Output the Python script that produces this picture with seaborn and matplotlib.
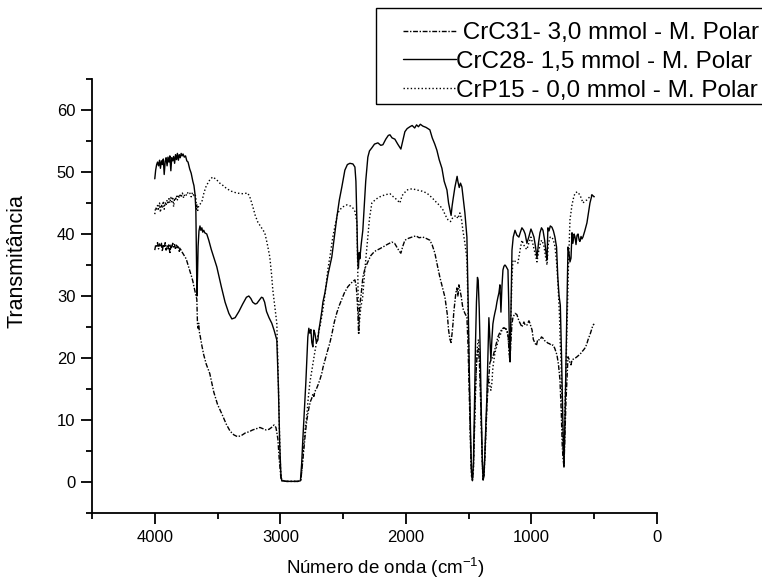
import matplotlib
matplotlib.use("Agg")
import matplotlib.pyplot as plt
from matplotlib.patches import Rectangle
from matplotlib.ticker import MultipleLocator
import seaborn as sns
import numpy as np

# ---------------------------------------------------------------------------
# data
# ---------------------------------------------------------------------------
labels = [" CrC31- 3,0 mmol - M. Polar",
          "CrC28- 1,5 mmol - M. Polar",
          "CrP15 - 0,0 mmol - M. Polar"]

# CrC31 - dash dot
c31_wn = [4000, 3993, 3985, 3978, 3970, 3962, 3955, 3947, 3940, 3932,
          3925, 3917, 3910, 3902, 3895, 3887, 3880, 3872, 3865, 3857,
          3850, 3842, 3835, 3827, 3820, 3812, 3805, 3797, 3790, 3780,
          3765, 3750, 3735, 3720, 3705, 3697, 3688, 3680, 3672, 3665,
          3660, 3655, 3650, 3645, 3638, 3625, 3610, 3590, 3562, 3530,
          3500, 3466, 3430, 3400, 3370, 3340, 3310, 3280, 3250, 3220,
          3190, 3163, 3140, 3115, 3090, 3070, 3050, 3035, 3020, 3008,
          2995, 2988, 2950, 2900, 2860, 2837, 2828, 2821, 2810, 2800,
          2790, 2781, 2770, 2760, 2750, 2741, 2733, 2725, 2713, 2701,
          2685, 2670, 2660, 2640, 2622, 2606, 2590, 2570, 2550, 2530,
          2510, 2490, 2462, 2440, 2420, 2406, 2395, 2388, 2382, 2377,
          2372, 2366, 2358, 2350, 2343, 2325, 2303, 2280, 2263, 2240,
          2210, 2183, 2150, 2112, 2090, 2072, 2055, 2040, 2025, 2008,
          1980, 1952, 1920, 1895, 1865, 1840, 1809, 1790, 1769, 1750,
          1729, 1710, 1689, 1670, 1660, 1649, 1640, 1632, 1625, 1618,
          1610, 1602, 1594, 1586, 1578, 1570, 1560, 1546, 1530, 1514,
          1505, 1495, 1485, 1478, 1470, 1462, 1454, 1446, 1438, 1430,
          1422, 1414, 1406, 1398, 1390, 1385, 1378, 1370, 1362, 1355,
          1347, 1339, 1331, 1320, 1307, 1290, 1267, 1250, 1227, 1211,
          1195, 1185, 1178, 1171, 1163, 1155, 1147, 1130, 1116, 1100,
          1090, 1076, 1060, 1050, 1036, 1020, 1012, 995, 985, 972,
          960, 950, 932, 920, 908, 895, 880, 869, 855, 840,
          829, 815, 797, 785, 773, 762, 755, 749, 741, 733,
          725, 717, 709, 700, 693, 685, 677, 660, 650, 637,
          620, 605, 598, 585, 574, 560, 550, 530, 510, 500]
c31_t = [37.4, 38.2, 38.0, 38.6, 37.6, 38.4, 37.9, 38.5, 37.2, 38.3,
         37.8, 38.6, 37.4, 38.1, 37.6, 38.4, 36.8, 38.2, 37.7, 38.5,
         37.9, 38.3, 37.5, 38.2, 37.8, 38.1, 37.2, 37.8, 37.3, 37.0,
         36.5, 36.0, 35.0, 34.0, 33.0, 32.4, 31.5, 30.8, 30.0, 29.5,
         25.5, 24.8, 25.6, 24.2, 23.5, 22.0, 20.5, 19.0, 17.5, 14.5,
         12.5, 11.0, 9.3, 8.2, 7.6, 7.3, 7.5, 7.9, 8.1, 8.4,
         8.6, 8.8, 8.6, 8.4, 8.5, 8.8, 9.2, 8.8, 7.0, 3.5,
         0.5, 0.2, 0.1, 0.1, 0.1, 0.3, 2.0, 3.5, 6.0, 8.0,
         9.8, 11.0, 12.2, 13.0, 13.5, 14.2, 13.8, 14.6, 15.0, 15.6,
         16.5, 17.5, 18.5, 20.0, 21.3, 22.4, 23.8, 25.8, 27.3, 28.5,
         29.5, 30.5, 31.5, 32.0, 32.4, 32.6, 31.5, 29.5, 27.0, 24.0,
         26.5, 28.8, 30.0, 31.5, 33.0, 34.5, 35.5, 36.5, 36.9, 37.3,
         37.6, 37.9, 38.3, 38.7, 38.5, 37.9, 37.3, 36.9, 38.0, 39.0,
         39.3, 39.5, 39.7, 39.4, 39.5, 39.3, 39.0, 38.2, 36.9, 35.0,
         33.0, 31.5, 29.8, 27.0, 24.5, 23.0, 22.5, 24.0, 25.5, 27.5,
         29.0, 30.5, 31.3, 30.0, 31.8, 31.0, 30.0, 28.0, 27.2, 26.6,
         22.0, 14.0, 6.0, 1.5, 0.3, 2.5, 9.0, 15.0, 19.0, 21.0,
         21.5, 19.0, 14.0, 8.0, 2.5, 0.5, 1.2, 5.0, 9.0, 12.0,
         15.0, 17.2, 19.2, 19.8, 20.2, 21.5, 23.4, 24.2, 24.8, 24.8,
         24.5, 23.5, 21.0, 19.4, 23.0, 25.5, 26.6, 27.2, 27.0, 26.0,
         25.6, 25.0, 25.8, 25.3, 25.3, 26.0, 25.6, 24.5, 23.0, 22.4,
         22.0, 23.0, 22.9, 23.4, 23.2, 22.8, 22.6, 22.4, 22.3, 22.0,
         22.1, 21.6, 20.5, 19.0, 16.5, 11.0, 6.0, 4.0, 2.4, 8.0,
         13.0, 16.5, 20.2, 19.8, 19.2, 18.9, 19.7, 19.9, 20.0, 20.2,
         20.5, 20.8, 21.0, 21.3, 21.6, 22.2, 22.9, 24.0, 25.3, 25.5]

# CrC28 - solid
c28_wn = [4000, 3993, 3985, 3978, 3970, 3962, 3955, 3947, 3940, 3932,
          3925, 3917, 3910, 3902, 3895, 3887, 3880, 3872, 3865, 3857,
          3850, 3842, 3835, 3827, 3820, 3812, 3805, 3797, 3790, 3782,
          3775, 3765, 3755, 3745, 3735, 3722, 3710, 3697, 3688, 3680,
          3673, 3668, 3664, 3660, 3655, 3648, 3640, 3633, 3625, 3618,
          3610, 3602, 3586, 3570, 3550, 3506, 3470, 3440, 3410, 3386,
          3360, 3330, 3300, 3270, 3251, 3235, 3220, 3200, 3187, 3165,
          3150, 3139, 3125, 3110, 3090, 3068, 3050, 3028, 3015, 3005,
          2995, 2988, 2950, 2900, 2860, 2840, 2830, 2821, 2810, 2797,
          2788, 2781, 2773, 2765, 2757, 2749, 2741, 2733, 2725, 2713,
          2701, 2693, 2685, 2670, 2661, 2645, 2620, 2590, 2570, 2550,
          2530, 2510, 2486, 2466, 2446, 2422, 2406, 2398, 2390, 2384,
          2378, 2372, 2367, 2355, 2343, 2330, 2320, 2303, 2290, 2271,
          2250, 2223, 2200, 2183, 2160, 2140, 2127, 2110, 2088, 2065,
          2040, 2025, 2008, 1990, 1968, 1950, 1930, 1915, 1900, 1885,
          1865, 1840, 1825, 1809, 1790, 1770, 1753, 1735, 1713, 1695,
          1673, 1660, 1649, 1640, 1632, 1625, 1610, 1600, 1592, 1586,
          1575, 1565, 1554, 1545, 1530, 1520, 1514, 1505, 1495, 1485,
          1478, 1470, 1462, 1454, 1446, 1438, 1430, 1424, 1416, 1408,
          1400, 1392, 1385, 1378, 1370, 1362, 1355, 1347, 1339, 1331,
          1323, 1315, 1307, 1299, 1291, 1283, 1275, 1267, 1259, 1251,
          1243, 1235, 1227, 1219, 1211, 1203, 1195, 1187, 1181, 1175,
          1170, 1163, 1155, 1145, 1131, 1116, 1100, 1088, 1076, 1062,
          1050, 1036, 1020, 1004, 992, 980, 968, 956, 944, 932,
          920, 908, 895, 884, 876, 869, 860, 850, 837, 825,
          813, 800, 790, 780, 770, 760, 750, 741, 733, 725,
          717, 709, 701, 693, 685, 677, 670, 660, 653, 645,
          637, 629, 620, 614, 605, 598, 590, 575, 558, 545,
          534, 518, 500]
c28_t = [48.9, 50.3, 51.2, 51.6, 51.0, 51.9, 50.6, 51.8, 51.2, 52.1,
         49.6, 51.7, 52.3, 51.0, 52.4, 51.6, 52.6, 50.2, 52.3, 51.8,
         52.5, 51.4, 52.8, 52.0, 53.0, 51.9, 52.8, 52.3, 53.0, 52.6,
         52.9, 52.4, 52.6, 51.8, 51.6, 50.5, 49.8, 48.5, 47.8, 46.5,
         44.0, 36.0, 30.0, 33.0, 38.0, 40.5, 41.3, 40.6, 41.0, 40.3,
         40.6, 40.2, 40.0, 39.0, 37.5, 34.7, 31.5, 29.0, 27.2, 26.3,
         26.5, 27.5, 28.7, 29.8, 30.0, 29.6, 29.0, 28.7, 28.8, 29.4,
         29.8, 29.7, 29.0, 27.5, 26.5, 25.6, 24.5, 22.9, 15.0, 6.0,
         1.0, 0.2, 0.1, 0.1, 0.1, 0.2, 3.0, 6.8, 11.0, 16.0,
         20.0, 23.4, 24.8, 24.0, 24.6, 22.5, 21.8, 24.5, 24.0, 22.5,
         22.9, 24.5, 25.5, 27.5, 29.0, 30.5, 33.5, 36.3, 39.5, 42.7,
         45.5, 47.6, 50.3, 51.2, 51.4, 51.3, 50.8, 48.5, 42.0, 36.0,
         34.5, 37.0, 36.0, 38.5, 40.6, 45.0, 48.5, 52.4, 53.4, 53.9,
         54.5, 54.7, 54.3, 54.4, 55.3, 55.9, 56.0, 55.5, 55.3, 54.5,
         53.7, 55.0, 56.5, 57.0, 57.3, 57.5, 57.1, 57.6, 57.3, 57.7,
         57.4, 57.2, 57.0, 56.8, 55.5, 54.5, 53.5, 52.0, 50.6, 48.5,
         47.1, 45.0, 43.9, 43.0, 44.5, 45.5, 47.5, 48.5, 49.3, 48.5,
         47.5, 48.2, 47.6, 46.0, 43.4, 41.0, 39.5, 30.0, 18.0, 8.0,
         2.0, 0.2, 3.0, 12.0, 22.0, 29.0, 33.0, 32.5, 28.0, 21.0,
         12.0, 4.0, 0.3, 1.0, 5.0, 10.0, 13.7, 20.0, 26.5, 23.0,
         19.7, 23.0, 25.5, 26.5, 27.3, 28.0, 29.0, 29.8, 30.5, 31.8,
         27.4, 31.5, 34.2, 34.8, 35.0, 34.8, 34.5, 34.2, 29.0, 22.0,
         19.4, 28.0, 37.4, 39.5, 40.6, 39.8, 39.5, 40.3, 41.0, 40.6,
         40.0, 38.5, 39.6, 40.8, 40.2, 39.5, 38.0, 36.1, 38.5, 40.2,
         41.0, 40.6, 39.0, 37.0, 35.8, 41.0, 40.5, 41.3, 41.1, 40.5,
         39.5, 37.9, 33.0, 30.0, 28.5, 20.0, 10.0, 2.4, 10.0, 19.0,
         27.3, 37.9, 37.0, 35.5, 36.1, 40.2, 38.5, 40.0, 39.5, 38.3,
         39.8, 40.0, 39.0, 38.8, 39.6, 39.2, 39.5, 40.5, 41.8, 43.5,
         45.0, 46.3, 46.0]

# CrP15 - dotted
p15_wn = [4000, 3993, 3985, 3978, 3970, 3962, 3955, 3947, 3940, 3932,
          3925, 3917, 3910, 3902, 3895, 3887, 3880, 3872, 3865, 3857,
          3850, 3842, 3835, 3827, 3820, 3812, 3805, 3797, 3790, 3780,
          3770, 3760, 3745, 3735, 3721, 3710, 3700, 3690, 3680, 3673,
          3668, 3664, 3658, 3650, 3640, 3625, 3610, 3595, 3586, 3560,
          3538, 3510, 3482, 3455, 3426, 3390, 3347, 3300, 3259, 3240,
          3219, 3200, 3179, 3150, 3124, 3105, 3084, 3070, 3060, 3045,
          3028, 3018, 3008, 2998, 2990, 2950, 2900, 2860, 2837, 2828,
          2821, 2810, 2800, 2790, 2780, 2765, 2745, 2725, 2705, 2685,
          2661, 2640, 2622, 2600, 2582, 2560, 2542, 2510, 2470, 2440,
          2422, 2405, 2390, 2384, 2378, 2374, 2369, 2360, 2343, 2330,
          2319, 2303, 2290, 2271, 2240, 2207, 2170, 2127, 2100, 2070,
          2048, 2030, 1992, 1950, 1912, 1870, 1833, 1800, 1770, 1753,
          1730, 1705, 1685, 1665, 1645, 1625, 1600, 1585, 1570, 1558,
          1546, 1530, 1514, 1505, 1495, 1485, 1478, 1470, 1462, 1454,
          1446, 1438, 1430, 1422, 1414, 1406, 1398, 1390, 1385, 1378,
          1370, 1362, 1355, 1347, 1339, 1331, 1323, 1315, 1307, 1291,
          1275, 1259, 1243, 1235, 1223, 1211, 1195, 1185, 1178, 1171,
          1163, 1155, 1147, 1130, 1108, 1090, 1076, 1060, 1050, 1036,
          1020, 1004, 990, 975, 965, 956, 940, 925, 916, 900,
          885, 876, 865, 850, 837, 825, 813, 800, 789, 777,
          770, 765, 755, 748, 741, 733, 725, 717, 705, 693,
          685, 677, 665, 653, 635, 614, 600, 590, 575, 558,
          540, 518, 500]
p15_t = [43.2, 44.3, 43.8, 44.6, 44.0, 45.0, 43.5, 44.8, 44.2, 45.3,
         44.0, 45.1, 44.6, 45.5, 44.8, 45.7, 45.0, 45.9, 45.2, 46.0,
         44.4, 45.8, 45.4, 46.2, 45.5, 46.3, 45.8, 46.5, 45.9, 46.6,
         45.8, 46.5, 46.2, 46.8, 46.6, 46.0, 46.7, 46.2, 46.4, 46.0,
         44.0, 44.8, 43.8, 44.6, 44.8, 45.2, 46.5, 47.5, 47.9, 48.8,
         49.2, 48.8, 48.2, 47.8, 47.3, 46.9, 46.6, 46.5, 46.6, 45.8,
         44.4, 43.0, 41.9, 41.0, 40.2, 38.5, 36.3, 33.5, 31.0, 28.5,
         25.6, 18.0, 9.0, 2.0, 0.3, 0.1, 0.1, 0.1, 0.3, 2.0,
         4.0, 7.0, 9.0, 10.5, 13.0, 16.0, 18.5, 21.0, 23.3, 25.0,
         27.7, 31.0, 34.2, 37.0, 39.5, 41.8, 43.4, 44.3, 44.7, 44.5,
         44.2, 43.6, 41.8, 35.0, 27.0, 24.0, 26.0, 28.0, 30.0, 33.5,
         36.0, 39.5, 42.5, 45.0, 45.6, 46.0, 46.3, 46.5, 46.0, 45.5,
         45.0, 46.2, 47.1, 47.3, 47.1, 46.9, 46.6, 46.0, 45.4, 45.0,
         44.6, 43.9, 43.0, 42.3, 42.0, 42.7, 43.0, 42.5, 43.4, 42.5,
         40.6, 38.5, 36.0, 28.0, 16.0, 6.0, 1.0, 0.3, 2.0, 8.0,
         14.0, 19.0, 22.0, 23.0, 21.0, 15.0, 8.0, 2.0, 0.5, 1.0,
         4.0, 8.0, 12.5, 17.0, 16.5, 15.5, 14.8, 16.0, 18.5, 20.8,
         22.0, 23.2, 24.0, 24.5, 24.8, 25.0, 24.4, 23.0, 21.0, 19.4,
         27.0, 33.0, 35.8, 35.6, 35.3, 37.5, 39.0, 38.2, 37.8, 37.5,
         38.6, 39.5, 38.5, 37.2, 36.3, 35.5, 37.5, 38.8, 39.0, 38.0,
         36.0, 35.0, 38.5, 39.5, 39.5, 39.0, 38.0, 35.5, 32.0, 27.0,
         22.0, 20.0, 11.0, 5.0, 2.4, 12.0, 18.0, 25.0, 35.0, 42.3,
         43.5, 44.7, 45.8, 46.6, 46.8, 46.3, 45.6, 45.0, 45.3, 45.5,
         45.9, 46.3, 46.0]

series = [(c31_wn, c31_t, (0, (3.5, 1.2, 1.0, 1.2))),
          (c28_wn, c28_t, "-"),
          (p15_wn, p15_t, (0, (1.0, 1.6)))]

# ---------------------------------------------------------------------------
# style
# ---------------------------------------------------------------------------
sns.set_theme(style="ticks")
plt.rcParams['font.family'] = ['Liberation Sans', 'DejaVu Sans']
plt.rcParams['mathtext.fontset'] = 'custom'
plt.rcParams['mathtext.rm'] = 'Liberation Sans'
plt.rcParams['mathtext.default'] = 'regular'
plt.rcParams['axes.linewidth'] = 1.3
plt.rcParams['axes.edgecolor'] = 'black'
plt.rcParams['text.color'] = 'black'
plt.rcParams['axes.labelcolor'] = 'black'

fig = plt.figure(figsize=(7.62, 5.86), dpi=100, facecolor='white')
ax = fig.add_axes([92 / 762, 1 - 513 / 586, 565 / 762, 434 / 586])

for (wn, t, ls), lab in zip(series, labels):
    sns.lineplot(x=wn, y=t, ax=ax, color='black', linewidth=1.0,
                 linestyle=ls, sort=False, estimator=None, label=lab,
                 legend=False)

ax.set_xlim(4500, 0)
ax.set_ylim(-5, 65)
ax.set_xticks([4000, 3000, 2000, 1000, 0])
ax.xaxis.set_minor_locator(MultipleLocator(500))
ax.set_yticks(np.arange(0, 61, 10))
ax.yaxis.set_minor_locator(MultipleLocator(5))
ax.tick_params(which='major', direction='out', length=8, width=1.3,
               labelsize=12, colors='black', pad=4)
ax.tick_params(which='minor', direction='out', length=4, width=1.3,
               colors='black')
sns.despine(ax=ax)

ax.set_xlabel("Número de onda (cm$^{-1}$)", fontsize=13.5)
ax.set_ylabel("Transmitância", fontsize=15.5)
ax.xaxis.set_label_coords(0.52, -0.1)
ax.yaxis.set_label_coords(-0.115, 0.58)

# legend, boxed, partly running off the figure on the right
handles = ax.get_lines()[:3]
fig.legend(handles, labels, loc='upper left',
           bbox_to_anchor=(403 / 762, 1 - 22 / 586),
           frameon=False, fontsize=17.5, handlelength=2.2, handletextpad=0.0,
           labelspacing=0.28, borderpad=0, borderaxespad=0)
fig.patches.append(Rectangle((376 / 762, 1 - 104 / 586), 0.6, 96 / 586,
                             transform=fig.transFigure, fill=False,
                             edgecolor='black', linewidth=1.0))

fig.savefig("out.png", dpi=100, facecolor='white')
